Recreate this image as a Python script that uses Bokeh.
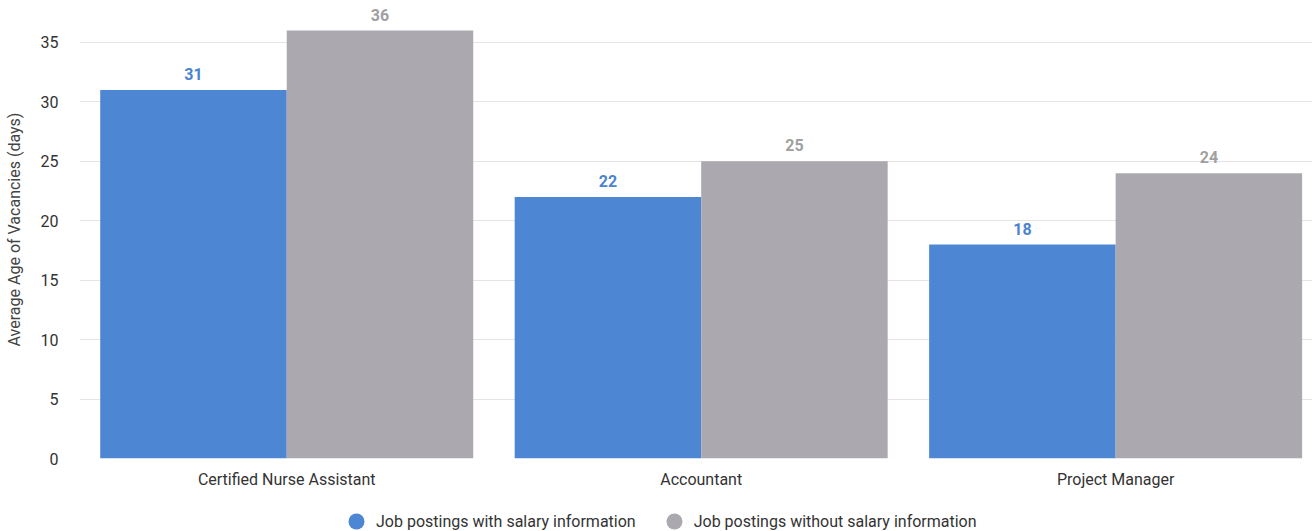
import numpy as np
from bokeh.plotting import figure
from bokeh.layouts import column
from bokeh.models import ColumnDataSource, Range1d, FixedTicker, Legend, LegendItem
from bokeh.core.properties import value
from bokeh.embed import file_html
from bokeh.resources import INLINE

# Average age of vacancies (days) per occupation
categories = ["Certified Nurse Assistant", "Accountant", "Project Manager"]
with_salary = [31, 22, 18]
without_salary = [36, 25, 24]
y_ticks = [0, 5, 10, 15, 20, 25, 30, 35]
series_names = ["Job postings with salary information",
                "Job postings without salary information"]

FONT = "Roboto"
BLUE = "#4d86d3"
GREY = "#aca8b0"
BLUE_TEXT = "#4a84d0"
GREY_TEXT = "#a0a0a0"
TEXT = "#333333"

centers = np.arange(len(categories)) + 0.5
bar_w = 0.45

src = ColumnDataSource(dict(
    x_with=centers - bar_w / 2,
    x_without=centers + bar_w / 2,
    with_salary=with_salary,
    without_salary=without_salary,
    lab_with=[f"{v:.0f}" for v in with_salary],
    lab_without=[f"{v:.0f}" for v in without_salary],
))

p = figure(width=1312, height=500, output_backend="svg", toolbar_location=None,
           x_range=Range1d(0, 2.975), y_range=Range1d(0, 38.53),
           min_border_left=79, min_border_right=0, min_border_top=0,
           min_border_bottom=42)
p.outline_line_color = None
p.background_fill_color = "white"

p.vbar(x="x_with", top="with_salary", width=bar_w, source=src,
       fill_color=BLUE, line_color=None)
p.vbar(x="x_without", top="without_salary", width=bar_w, source=src,
       fill_color=GREY, line_color=None)

p.text(x="x_with", y="with_salary", text="lab_with", source=src, y_offset=-16,
       text_align="center", text_baseline="alphabetic", text_font=value(FONT),
       text_font_style="bold", text_font_size="16px", text_color=BLUE_TEXT)
p.text(x="x_without", y="without_salary", text="lab_without", source=src, y_offset=-16,
       text_align="center", text_baseline="alphabetic", text_font=value(FONT),
       text_font_style="bold", text_font_size="16px", text_color=GREY_TEXT)

# axes
p.xaxis.ticker = FixedTicker(ticks=list(centers))
p.xaxis.major_label_overrides = {float(c): name for c, name in zip(centers, categories)}
p.yaxis.ticker = FixedTicker(ticks=y_ticks)
for ax in (p.xaxis[0], p.yaxis[0]):
    ax.axis_line_color = None
    ax.major_tick_line_color = None
    ax.minor_tick_line_color = None
    ax.major_tick_out = 0
    ax.major_label_text_font = FONT
    ax.major_label_text_font_size = "16px"
    ax.major_label_text_color = TEXT
p.xaxis.major_label_standoff = 11
p.yaxis.major_label_standoff = 21
p.yaxis.axis_label = "Average Age of Vacancies (days)"
p.yaxis.axis_label_text_font = FONT
p.yaxis.axis_label_text_font_size = "16px"
p.yaxis.axis_label_text_font_style = "normal"
p.yaxis.axis_label_text_color = "#444444"
p.yaxis.axis_label_standoff = 14

p.xgrid.grid_line_color = None
p.ygrid.grid_line_color = "#e4e4e4"
p.ygrid.ticker = FixedTicker(ticks=y_ticks)

# legend strip underneath the chart (its frame lines up with the chart's frame)
lg = figure(width=1312, height=31, output_backend="svg", toolbar_location=None,
            x_range=Range1d(0, 1), y_range=Range1d(0, 1),
            min_border_left=0, min_border_right=0, min_border_top=0,
            min_border_bottom=0)
lg.axis.visible = False
lg.grid.visible = False
lg.outline_line_color = None

# legend swatches: one off-range point each, so only the legend shows them
swatch = ColumnDataSource(dict(x=[-1.0], y=[-1.0]))
m_with = lg.scatter(x="x", y="y", source=swatch, marker="circle",
                    fill_color=BLUE, line_color=None)
m_without = lg.scatter(x="x", y="y", source=swatch, marker="circle",
                       fill_color=GREY, line_color=None)
legend = Legend(items=[LegendItem(label=series_names[0], renderers=[m_with]),
                       LegendItem(label=series_names[1], renderers=[m_without])],
                location=(257, -10), orientation="horizontal",
                glyph_width=40, glyph_height=40, label_standoff=0, spacing=18,
                padding=0, margin=0, border_line_color=None,
                background_fill_alpha=0,
                label_text_font=FONT, label_text_font_size="16px",
                label_text_color=TEXT)
lg.add_layout(legend, "center")

layout = column(p, lg, spacing=0)
open("out.html", "w").write(file_html(layout, INLINE))
